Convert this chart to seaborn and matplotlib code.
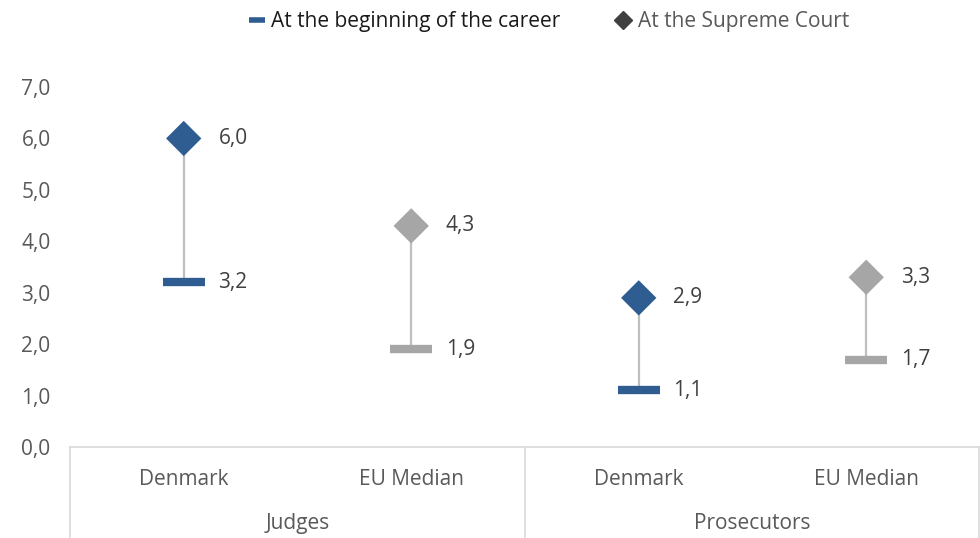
import numpy as np
import pandas as pd
import matplotlib
matplotlib.use("Agg")
import matplotlib.pyplot as plt
from matplotlib.lines import Line2D
from matplotlib.ticker import FuncFormatter
import seaborn as sns

# data
groups = ["Judges", "Judges", "Prosecutors", "Prosecutors"]
countries = ["Denmark", "EU Median", "Denmark", "EU Median"]
beginning = [3.2, 1.9, 1.1, 1.7]
supreme = [6.0, 4.3, 2.9, 3.3]

BLUE = "#2F5D91"
GREY = "#A6A6A6"
colors = {"Denmark": BLUE, "EU Median": GREY}

df = pd.DataFrame({"pos": range(len(countries)), "country": countries,
                   "group": groups, "begin": beginning, "supreme": supreme})

sns.set_style("white")
plt.rcParams["font.family"] = ["Open Sans", "DejaVu Sans"]

fig = plt.figure(figsize=(9.8, 5.38), dpi=100)
ax = fig.add_axes([0.0714, 0.1691, 0.9286, 0.6691])

# connecting lines
ax.vlines(df["pos"], df["begin"], df["supreme"], color="#BFBFBF", lw=1.6, zorder=1)

# markers
sns.scatterplot(data=df, x="pos", y="begin", hue="country", palette=colors,
                marker="_", s=30 ** 2, linewidth=6, legend=False, ax=ax, zorder=3)
sns.scatterplot(data=df, x="pos", y="supreme", hue="country", palette=colors,
                marker="D", s=18 ** 2, edgecolor="none", linewidth=0,
                legend=False, ax=ax, zorder=3)

# value labels
for _, r in df.iterrows():
    for v in (r["begin"], r["supreme"]):
        ax.annotate(f"{v:.1f}".replace(".", ","), (r["pos"], v), xytext=(25, 0),
                    textcoords="offset points", va="center", ha="left",
                    fontsize=15, color="#404040")

ax.set_xlim(-0.5, 3.5)
ax.set_ylim(0, 7)
ax.set_yticks(np.arange(0, 8, 1))
ax.yaxis.set_major_formatter(FuncFormatter(lambda v, p: f"{v:.1f}".replace(".", ",")))
ax.tick_params(axis="y", length=0, labelsize=15, labelcolor="#595959", pad=14)
ax.set_xticks(df["pos"])
ax.set_xticklabels(countries)
ax.tick_params(axis="x", length=0, labelsize=15, labelcolor="#595959", pad=16)
ax.set_xlabel("")
ax.set_ylabel("")

for s in ["top", "right", "left"]:
    ax.spines[s].set_visible(False)
ax.spines["bottom"].set_color("#D9D9D9")
ax.spines["bottom"].set_linewidth(1.2)

# group separators and labels
bottom = -91 / 360
for xb in [-0.5, 1.5, 3.5]:
    xf = (xb + 0.5) / 4
    if xf >= 1:
        xf = 0.999
    ax.plot([xf, xf], [0, bottom], transform=ax.transAxes, color="#D9D9D9",
            lw=1.2, clip_on=False)
for g in ["Judges", "Prosecutors"]:
    xs = df.loc[df["group"] == g, "pos"].mean()
    ax.text(xs, -0.212, g, transform=ax.get_xaxis_transform(), ha="center",
            va="center", fontsize=15, color="#595959")

handles = [Line2D([], [], marker="_", color=BLUE, ls="none", markersize=12, markeredgewidth=4),
           Line2D([], [], marker="D", color="#404040", ls="none", markersize=9)]
leg = fig.legend(handles, ["At the beginning of the career", "At the Supreme Court"],
                 loc="center", bbox_to_anchor=(0.56, 0.96), ncol=2, frameon=False,
                 fontsize=15, handletextpad=0.3, columnspacing=2.6, handlelength=0.8)
leg.get_texts()[0].set_color("#1a1a1a")
leg.get_texts()[1].set_color("#595959")

fig.savefig("out.png", dpi=100)
